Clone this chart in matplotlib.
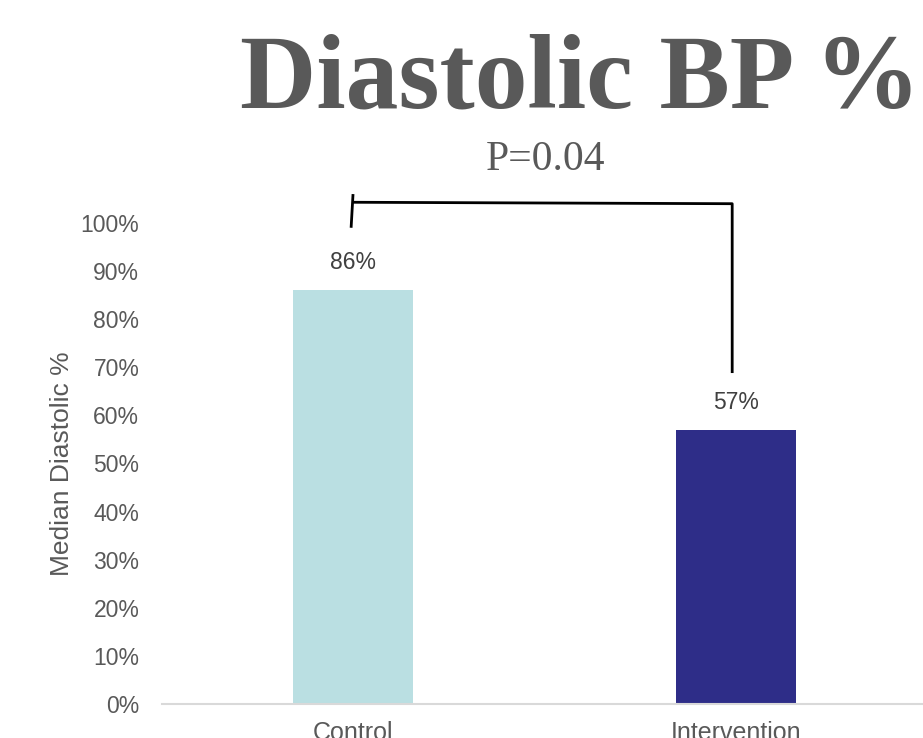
import matplotlib.pyplot as plt
from matplotlib.ticker import PercentFormatter

# median diastolic BP change per group
groups = ['Control', 'Intervention']
median_diastolic = [0.86, 0.57]
bar_colors = ['#BADFE2', '#2E2D88']
p_value_text = 'P=0.04'

plt.rcParams['font.family'] = ['Liberation Sans', 'DejaVu Sans']

fig = plt.figure(figsize=(9.23, 7.38), dpi=100)
ax = fig.add_axes([0.175, 0.0461, 0.8299, 0.6518])

x = range(len(groups))
bars = ax.bar(x, median_diastolic, width=0.313, color=bar_colors, zorder=2)

ax.set_xlim(-0.5, 1.5)
ax.set_ylim(0, 1)
ax.set_yticks([i / 10 for i in range(11)])
ax.yaxis.set_major_formatter(PercentFormatter(1.0, decimals=0))
ax.set_xticks(list(x))
ax.set_xticklabels(groups)
ax.tick_params(axis='both', length=0, labelsize=16.5, labelcolor='#595959')
ax.tick_params(axis='x', pad=12, labelsize=18)
ax.tick_params(axis='y', pad=16)

for side in ['top', 'right', 'left']:
    ax.spines[side].set_visible(False)
ax.spines['bottom'].set_color('#D9D9D9')
ax.spines['bottom'].set_linewidth(1.5)
ax.spines['bottom'].set_zorder(3)

ax.set_ylabel('Median Diastolic %', fontsize=19, color='#595959', labelpad=5)

# value labels above the bars
for xi, v in zip(x, median_diastolic):
    ax.annotate(f'{v:.0%}', (xi, v), xytext=(0, 20), textcoords='offset points',
                ha='center', va='center', fontsize=16.5, color='#404040')

# significance bracket between the two groups
bx = [-0.005, 0.0, 0.0, 0.99, 0.99]
by = [0.99, 1.06, 1.043, 1.04, 0.688]
ax.plot(bx[:2], by[:2], color='black', lw=2, clip_on=False, solid_capstyle='butt')
ax.plot(bx[2:], by[2:], color='black', lw=2, clip_on=False, solid_capstyle='butt')

fig.text(0.629, 0.889, 'Diastolic BP %', ha='center', va='center',
         fontsize=76, fontweight='bold', family='Liberation Serif', color='#595959')
fig.text(0.591, 0.783, p_value_text, ha='center', va='center',
         fontsize=30, family='Liberation Serif', color='#595959')

fig.savefig('out.png', dpi=100)
